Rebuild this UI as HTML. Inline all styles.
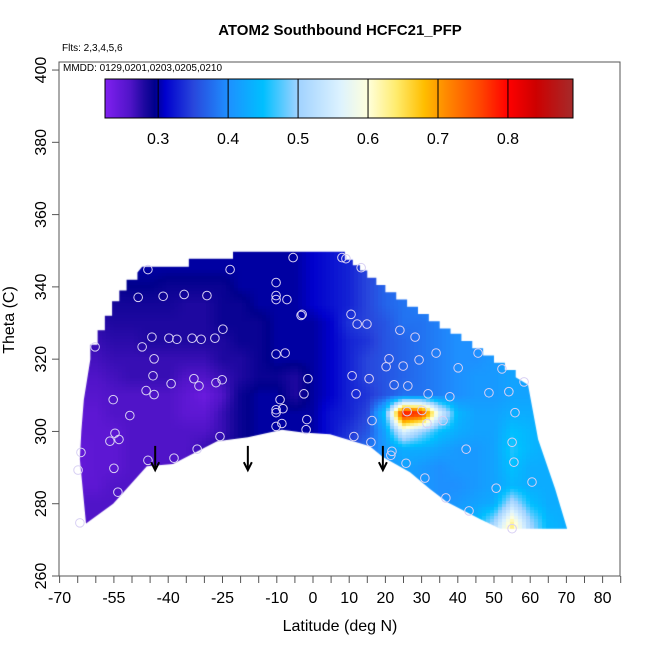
<!DOCTYPE html>
<html><head><meta charset="utf-8">
<style>
html,body{margin:0;padding:0;background:#fff;}
#wrap{position:relative;width:650px;height:650px;overflow:hidden;font-family:"Liberation Sans",sans-serif;}
canvas,svg{position:absolute;left:0;top:0;}
</style></head>
<body>
<div id="wrap">
<canvas id="hm" width="650" height="650"></canvas>
<svg id="sv" width="650" height="650"></svg>
</div>
<script>
// ---- data ----
const gridLats = [-70,-65,-60,-55,-50,-45,-40,-35,-30,-25,-20,-15,-10,-5,0,5,10,15,20,25,30,35,40,45,50,55,60,65,70,75];
const gridThetas = [350,345,340,335,330,325,320,315,310,305,300,295,290,285,280,275,270];
const r350=[.295,.295,.295,.295,.30,.30,.30,.30,.30,.30,.30,.30,.30,.30,.31,.32,.33,.34,.36,.38,.40,.40,.41,.41,.41,.41,.41,.41,.41,.41];
const r345=[.29,.29,.29,.295,.30,.30,.30,.30,.30,.30,.30,.30,.30,.30,.31,.32,.33,.35,.36,.38,.39,.40,.41,.41,.41,.41,.41,.41,.41,.41];
const r340=[.285,.285,.29,.29,.295,.295,.29,.29,.29,.29,.30,.30,.30,.30,.31,.32,.33,.35,.37,.38,.39,.40,.41,.41,.41,.41,.41,.41,.41,.41];
const r335=[.28,.28,.28,.285,.285,.285,.285,.28,.28,.29,.29,.30,.30,.30,.31,.32,.33,.35,.37,.38,.39,.40,.40,.41,.41,.41,.41,.41,.41,.41];
const r330=[.275,.275,.275,.28,.28,.28,.28,.28,.28,.29,.29,.29,.30,.30,.30,.31,.34,.35,.36,.38,.38,.39,.40,.41,.41,.41,.41,.41,.41,.41];
const r325=[.27,.27,.27,.275,.275,.28,.28,.28,.28,.28,.29,.29,.30,.30,.30,.31,.33,.34,.36,.37,.38,.39,.40,.40,.41,.41,.41,.41,.41,.41];
const r320=[.265,.265,.265,.27,.27,.27,.27,.27,.27,.28,.28,.29,.30,.30,.30,.31,.33,.35,.36,.37,.38,.39,.40,.40,.41,.42,.42,.42,.42,.42];
const r315=[.26,.26,.26,.265,.27,.27,.27,.26,.26,.27,.28,.29,.29,.28,.30,.31,.33,.35,.36,.37,.38,.39,.40,.41,.41,.42,.42,.42,.42,.42];
const r310=[.255,.255,.255,.26,.26,.26,.26,.25,.24,.26,.29,.30,.30,.28,.30,.31,.33,.34,.36,.38,.38,.39,.40,.41,.41,.42,.42,.42,.42,.42];
const r305=[.25,.25,.25,.26,.26,.26,.26,.25,.25,.27,.29,.30,.30,.30,.30,.32,.33,.35,.46,.80,.78,.56,.44,.42,.42,.43,.43,.43,.43,.43];
const r300=[.25,.25,.25,.25,.26,.26,.26,.26,.26,.27,.29,.30,.30,.30,.30,.32,.34,.36,.42,.56,.50,.45,.43,.42,.42,.45,.44,.43,.43,.43];
const r295=[.245,.245,.25,.25,.26,.26,.26,.26,.27,.28,.29,.30,.30,.30,.31,.33,.35,.38,.41,.43,.43,.42,.41,.41,.42,.46,.44,.43,.43,.43];
const r290=[.245,.245,.25,.25,.26,.26,.26,.26,.27,.28,.29,.30,.30,.30,.31,.33,.35,.38,.40,.42,.41,.40,.41,.41,.42,.45,.43,.43,.43,.43];
const r285=[.25,.25,.25,.26,.26,.26,.26,.26,.27,.28,.29,.30,.30,.30,.31,.33,.35,.38,.40,.41,.41,.40,.40,.41,.42,.44,.43,.43,.43,.43];
const r280=[.26,.26,.26,.26,.26,.26,.26,.26,.27,.28,.29,.30,.30,.30,.31,.33,.35,.38,.40,.41,.41,.40,.41,.42,.43,.52,.45,.43,.43,.43];
const r275=[.26,.26,.26,.26,.26,.26,.26,.26,.27,.28,.29,.30,.30,.30,.31,.33,.35,.38,.40,.41,.41,.41,.42,.44,.50,.62,.50,.44,.43,.43];
const r270=[.26,.26,.26,.26,.26,.26,.26,.26,.27,.28,.29,.30,.30,.30,.31,.33,.35,.38,.40,.41,.41,.41,.42,.46,.55,.66,.52,.44,.43,.43];
const gridRows=[r350,r345,r340,r335,r330,r325,r320,r315,r310,r305,r300,r295,r290,r285,r280,r275,r270];

const domainLat=[-62.7,-64.4,-64.0,-63.3,-61.5,-61.5,-59.5,-59.5,-57.5,-57.5,-55.5,-55.5,-53.5,-53.5,-51.5,-51.5,-48.5,-48.5,-47.2,-34.3,-34.3,-22.1,-22.1,8.8,8.8,11,11,13,13,15,15,17.5,17.5,20,20,23,23,26,26,29,29,32,32,35,35,38,38,41,41,44,44,47,47,50,50,53,53,56,56,59.4,62.2,66.9,70.2,51.7,46.1,37,32.3,26.8,19.3,15.7,4.7,-2.8,-8.6,-18,-26.5,-38.7,-45.9,-55.2];
const domainTheta=[274.5,292.3,300,308.8,320,324,324,328,328,332,332,336,336,339,339,342,342,344,345.6,345.6,347.8,347.8,349.7,349.7,347.5,347.5,346,346,344.5,344.5,342.5,342.5,340.5,340.5,338.5,338.5,336.5,336.5,334.5,334.5,332.5,332.5,330.5,330.5,328.5,328.5,327,327,325,325,323,323,321,321,319,319,317,317,315,312.9,297.8,284.1,273.1,273.1,275.8,280.5,284.1,288.7,292.9,295.9,299.2,299.7,300.5,298.4,297.3,291,290.4,280];

const obsLat=[-45.6,-22.9,-5.5,-10.2,-10.2,-10.2,-7.2,-3.3,-48.3,-41.4,-35.6,-29.3,-24.9,-44.5,-39.8,-37.6,-33.4,-30.9,-27.1,-47.2,-60.2,-43.9,-10.2,-7.7,-44.2,-39.2,-32.9,-31.5,-26.8,-25.1,-1.4,-2.5,-46.1,-43.9,-55.2,-50.6,-9.1,-10.2,-8.3,-10.2,-8.6,-10.2,-1.7,-1.9,-54.7,-56.1,-53.6,-25.7,-32,-64.1,-45.6,-38.4,-64.9,-55,-53.9,-64.4,
8,9.1,13.3,-3,10.5,12.2,14.9,24,28.2,34,21,29.3,20.2,24.9,40.1,45.6,52.2,10.8,15.5,22.4,26.2,11.9,31.8,37.8,48.6,54.1,58.3,26,30.1,35.9,31.5,16.3,55.8,11.3,16,21.8,21.5,42.3,55,55.5,25.7,30.9,50.6,60.5,36.7,43.1,55];
const obsTheta=[344.8,344.8,348.1,341.2,337.6,336.5,336.5,332.1,337.1,337.4,337.9,337.6,328.3,326.1,325.8,325.5,325.8,325.5,325.8,323.4,323.4,320.1,321.4,321.7,315.4,313.2,314.6,312.6,313.5,314.3,314.6,310.4,311.3,310.2,308.8,304.4,308.8,306,306.3,305.2,302.2,301.4,303.3,300.5,299.5,297.3,297.8,298.6,295.1,294.2,292,292.6,289.3,289.8,283.2,274.7,
348.1,347.8,345.3,332.4,332.4,329.7,329.7,328,326.1,321.7,320.1,319.8,317.9,318.1,317.6,321.7,317.3,315.4,314.6,312.9,312.6,310.4,310.4,309.6,310.7,311,313.7,305.5,305.8,303,302.2,303,305.2,298.6,297,294.5,293.4,295.1,297,291.5,291.2,287.1,284.3,286,281.6,278,273.1];

const arrowLat=[-43.6,-18,19.3];
const xTicks=[-70,-65,-60,-55,-50,-45,-40,-35,-30,-25,-20,-15,-10,-5,0,5,10,15,20,25,30,35,40,45,50,55,60,65,70,75,80,85];
const xTickLabels=[-70,-55,-40,-25,-10,0,10,20,30,40,50,60,70,80];
const yTicks=[260,280,300,320,340,360,380,400];
const cbTicks=[0.3,0.4,0.5,0.6,0.7,0.8];

// ---- scales ----
const X=l=>313+3.62*l;
const Y=t=>576-(t-260)*3.614;
const cbMin=0.224,cbMax=0.893,cbX0=105,cbX1=573;
const CB=v=>cbX0+(v-cbMin)/(cbMax-cbMin)*(cbX1-cbX0);

const stops=[[0.224,[128,32,240]],[0.26,[80,20,200]],[0.28,[30,8,160]],[0.295,[0,0,140]],[0.31,[0,0,205]],[0.35,[40,70,220]],[0.40,[30,144,255]],[0.45,[0,191,255]],[0.50,[160,210,255]],[0.56,[220,242,255]],[0.60,[255,255,220]],[0.64,[255,236,110]],[0.68,[255,190,0]],[0.71,[255,140,0]],[0.76,[255,70,0]],[0.80,[255,0,0]],[0.84,[205,0,0]],[0.893,[165,42,42]]];
function col(v){
  if(v<=stops[0][0])return stops[0][1];
  for(let i=1;i<stops.length;i++){if(v<=stops[i][0]){const a=stops[i-1],b=stops[i];const f=(v-a[0])/(b[0]-a[0]);return a[1].map((c,k)=>Math.round(c+(b[1][k]-c)*f));}}
  return stops[stops.length-1][1];
}
function val(lat,th){
  let fi=(lat-gridLats[0])/5, fj=(gridThetas[0]-th)/5;
  fi=Math.max(0,Math.min(gridLats.length-1.001,fi)); fj=Math.max(0,Math.min(gridThetas.length-1.001,fj));
  const i=Math.floor(fi),j=Math.floor(fj),a=fi-i,b=fj-j;
  const r0=gridRows[j],r1=gridRows[j+1];
  return (r0[i]*(1-a)+r0[i+1]*a)*(1-b)+(r1[i]*(1-a)+r1[i+1]*a)*b;
}

// ---- heatmap ----
const cv=document.getElementById('hm'),ctx=cv.getContext('2d');
const off=document.createElement('canvas');off.width=650;off.height=650;
const oc=off.getContext('2d');const img=oc.createImageData(650,650);
for(let y=240;y<545;y+=3){for(let x=70;x<580;x+=4){
  const lat=(x+2-313)/3.62, th=260+(576-y-1.5)/3.614;
  const c=col(val(lat,th));
  for(let dy=0;dy<3;dy++)for(let dx=0;dx<4;dx++){const p=((y+dy)*650+x+dx)*4;img.data[p]=c[0];img.data[p+1]=c[1];img.data[p+2]=c[2];img.data[p+3]=255;}
}}
oc.putImageData(img,0,0);
ctx.save();ctx.beginPath();
for(let k=0;k<domainLat.length;k++){const px=X(domainLat[k]),py=Y(domainTheta[k]);k?ctx.lineTo(px,py):ctx.moveTo(px,py);}
ctx.closePath();ctx.clip();ctx.drawImage(off,0,0);ctx.restore();

// ---- svg overlay ----
const NS='http://www.w3.org/2000/svg',sv=document.getElementById('sv');
function mk(tag,at,parent){const e=document.createElementNS(NS,tag);for(const k in at)e.setAttribute(k,at[k]);(parent||sv).appendChild(e);return e;}
function txt(s,at,parent){const e=mk('text',at,parent);e.textContent=s;return e;}

const obsG=mk('g',{});


for(let k=0;k<obsLat.length;k++){
  const c=mk('circle',{cx:X(obsLat[k]),cy:Y(obsTheta[k]),r:4.3,fill:'none',stroke:'#d8d0f4','stroke-width':1},obsG);
  
  
}
for(let k=0;k<arrowLat.length;k++){
  const ax=X(arrowLat[k]);
  const g=mk('g',{stroke:'#000','stroke-width':2,fill:'none'});
  
  
  mk('line',{x1:ax,y1:Y(296),x2:ax,y2:Y(289.5)},g);
  mk('polyline',{points:`${ax-4},${Y(291.5)} ${ax},${Y(289.3)} ${ax+4},${Y(291.5)}`},g);
}
const box=mk('rect',{x:59,y:62,width:561,height:514,fill:'none',stroke:'#555','stroke-width':1});


const xg=mk('g',{});


xTicks.forEach(t=>mk('line',{x1:X(t),x2:X(t),y1:576,y2:583,stroke:'#555'},xg));
xTickLabels.forEach(t=>{const e=txt(String(t),{x:X(t),y:603,'font-size':16,'text-anchor':'middle',fill:'#000'},xg);
  
  });
const xt=txt('Latitude (deg N)',{x:340,y:631,'font-size':16,'text-anchor':'middle'});


const yg=mk('g',{});


yTicks.forEach(t=>{mk('line',{x1:52,x2:59,y1:Y(t),y2:Y(t),stroke:'#555'},yg);
  const e=txt(String(t),{x:46,y:Y(t),'font-size':16,'text-anchor':'middle',transform:`rotate(-90 46 ${Y(t)})`},yg);
  
  });
const yt=txt('Theta (C)',{x:14,y:320,'font-size':16,'text-anchor':'middle',transform:'rotate(-90 14 320)'});


const tt=txt('ATOM2 Southbound HCFC21_PFP',{x:340,y:35,'font-size':15,'font-weight':'bold','text-anchor':'middle'});


const f1=txt('Flts: 2,3,4,5,6',{x:62,y:51,'font-size':10});


const f2=txt('MMDD: 0129,0201,0203,0205,0210',{x:63,y:71,'font-size':10});


const defs=mk('defs',{});const lg=mk('linearGradient',{id:'cbg',x1:0,x2:1,y1:0,y2:0},defs);
stops.forEach(s=>mk('stop',{offset:(s[0]-cbMin)/(cbMax-cbMin),'stop-color':`rgb(${s[1].join(',')})`},lg));
const cbG=mk('g',{});


mk('rect',{x:cbX0,y:79,width:cbX1-cbX0,height:39,fill:'url(#cbg)',stroke:'#000','stroke-width':1},cbG);
cbTicks.forEach(v=>{mk('line',{x1:CB(v),x2:CB(v),y1:79,y2:118,stroke:'#000','stroke-width':1},cbG);
  const e=txt(v.toFixed(1),{x:CB(v),y:144,'font-size':16,'text-anchor':'middle'},cbG);
  
  });
</script>
</body></html>
